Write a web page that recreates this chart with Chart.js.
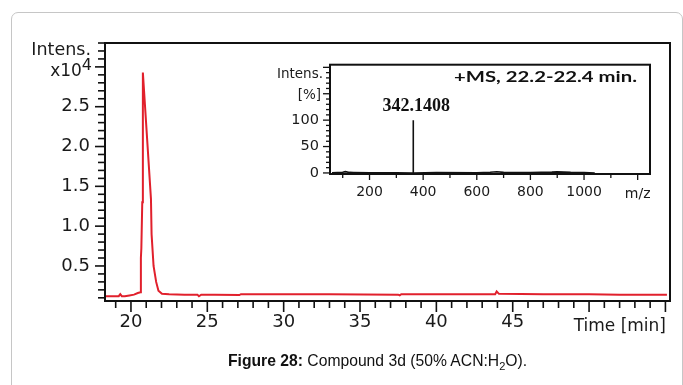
<!DOCTYPE html>
<html><head><meta charset="utf-8">
<script src="https://cdn.jsdelivr.net/npm/chart.js@4/dist/chart.umd.min.js"></script>
<style>
html,body{margin:0;padding:0;background:#fff;}
body{width:683px;height:385px;position:relative;overflow:hidden;}
#frame{position:absolute;left:11px;top:12px;width:672px;height:420px;border:1px solid #c6c6c6;border-radius:7px;box-sizing:border-box;}
#main{position:absolute;left:0;top:0;}
#inset{position:absolute;left:250px;top:45px;}
#cap{position:absolute;left:228px;top:352px;font:15.7px "Liberation Sans",Arial,sans-serif;line-height:18px;color:#111;white-space:nowrap;}
#cap b{font-weight:bold;}
#cap sub{font-size:11px;vertical-align:-4px;line-height:0;}
</style></head>
<body>
<div id="frame"></div>
<canvas id="main" width="683" height="385"></canvas>
<canvas id="inset" width="410" height="160"></canvas>
<div id="cap"><b>Figure 28:</b> Compound 3d (50% ACN:H<sub>2</sub>O).</div>
<script>
// ---- Chromatogram (main) data: time [min] vs intensity [x10^4]
const timeMin = [18.3, 18.8, 19.2, 19.3, 19.4, 19.6, 19.9, 20.2, 20.45, 20.62, 20.65, 20.68, 20.74, 20.78, 21.31, 21.35, 21.48, 21.65, 21.8, 22.03, 22.5, 23.5, 24.35, 24.45, 24.6, 25.5, 27.1, 27.2, 30, 33, 37.5, 37.6, 37.7, 40, 43.85, 43.95, 44.1, 47, 50, 52, 55.1];
const intensity = [0.12, 0.12, 0.12, 0.145, 0.12, 0.12, 0.13, 0.14, 0.16, 0.17, 0.6, 0.72, 1.3, 2.93, 1.34, 0.9, 0.5, 0.3, 0.19, 0.15, 0.145, 0.14, 0.14, 0.12, 0.14, 0.14, 0.135, 0.145, 0.145, 0.145, 0.14, 0.13, 0.145, 0.145, 0.145, 0.18, 0.15, 0.145, 0.145, 0.14, 0.14];
const mainXTickLabels = [20, 25, 30, 35, 40, 45];
const mainYTickLabels = [0.5, 1.0, 1.5, 2.0, 2.5];

// ---- Mass spectrum (inset) data: m/z vs relative intensity [%]
const mz = [60, 100, 110, 125, 140, 200, 300, 362.6, 363, 363.4, 450, 600, 650, 675, 700, 800, 880, 900, 950, 1000, 1040];
const relIntensity = [0.5, 1.2, 2.5, 1.0, 0.8, 0.4, 0.4, 0, 100, 0, 0.6, 0.5, 1.2, 2.2, 1.0, 0.8, 1.5, 2.0, 1.0, 0.6, 0];
const insetXTickLabels = [200, 400, 600, 800, 1000];
const insetYTickLabels = [0, 50, 100];

const F = '"DejaVu Sans", sans-serif';
const lbl = '#1a1a1a';

function line(ctx, x1, y1, x2, y2) { ctx.beginPath(); ctx.moveTo(x1, y1); ctx.lineTo(x2, y2); ctx.stroke(); }
function fillTextWidth(ctx, txt, x, y, w) {
  const m = ctx.measureText(txt).width;
  ctx.save(); ctx.translate(x, y); ctx.scale(w / m, 1); ctx.fillText(txt, 0, 0); ctx.restore();
}

const mainDeco = {
  id: 'mainDeco',
  afterDraw(chart) {
    const { ctx, chartArea: a, scales: { x, y } } = chart;
    ctx.save();
    ctx.strokeStyle = '#111';
    ctx.lineWidth = 2;
    ctx.strokeRect(a.left, a.top, a.right - a.left, a.bottom - a.top);
    ctx.lineWidth = 1.6;
    for (let k = 1; k <= 33; k++) {
      const v = k / 10;
      if (v < y.min || v > y.max) continue;
      const py = y.getPixelForValue(v);
      const len = k % 5 === 0 ? 10 : 7;
      line(ctx, a.left - len, py, a.left, py);
    }
    for (let t = 19; t <= 55; t++) {
      const px = x.getPixelForValue(t);
      const len = t % 5 === 0 ? 11 : 7;
      line(ctx, px, a.bottom, px, a.bottom + len);
    }
    ctx.fillStyle = lbl;
    const p3 = y.getPixelForValue(3.0);
    ctx.textBaseline = 'alphabetic';
    ctx.textAlign = 'right';
    ctx.font = '16px ' + F;
    ctx.fillText('4', a.left - 13, p3 + 3);
    const w4 = ctx.measureText('4').width;
    ctx.font = '17px ' + F;
    ctx.fillText('x10', a.left - 13 - w4, p3 + 9);
    ctx.font = '17.5px ' + F;
    ctx.fillText('Intens.', a.left - 14, y.getPixelForValue(3.2) + 4);
    ctx.font = '17px ' + F;
    ctx.fillText('Time [min]', a.right - 4, a.bottom + 30);
    ctx.restore();
  }
};

new Chart(document.getElementById('main'), {
  type: 'line',
  data: { datasets: [{ data: timeMin.map((t, i) => ({ x: t, y: intensity[i] })), borderColor: '#e1202c', borderWidth: 2, pointRadius: 0, tension: 0, fill: false }] },
  options: {
    responsive: false, animation: false,
    layout: { padding: { top: 43, right: 13, left: 0, bottom: 0 } },
    plugins: { legend: { display: false }, tooltip: { enabled: false } },
    scales: {
      x: {
        type: 'linear', min: 18.3, max: 55.3,
        afterFit(s) { s.height = 84; },
        afterBuildTicks(s) { s.ticks = mainXTickLabels.map(v => ({ value: v })); },
        grid: { display: false, drawTicks: false }, border: { display: false },
        ticks: { autoSkip: false, maxRotation: 0, padding: 11, color: lbl, font: { family: 'DejaVu Sans', size: 18 },
          callback: v => String(v) }
      },
      y: {
        type: 'linear', min: 0.06, max: 3.3,
        afterFit(s) { s.width = 105; },
        afterBuildTicks(s) { s.ticks = mainYTickLabels.map(v => ({ value: v })); },
        grid: { display: false, drawTicks: false }, border: { display: false },
        ticks: { autoSkip: false, padding: 15, color: lbl, font: { family: 'DejaVu Sans', size: 18 },
          callback: v => Number(v).toFixed(1) }
      }
    }
  },
  plugins: [mainDeco]
});

const insetDeco = {
  id: 'insetDeco',
  beforeDraw(chart) {
    const { ctx, width, height } = chart;
    ctx.save(); ctx.fillStyle = '#fff'; ctx.fillRect(0, 0, width, height); ctx.restore();
  },
  afterDraw(chart) {
    const { ctx, chartArea: a, scales: { x, y } } = chart;
    ctx.save();
    ctx.strokeStyle = '#111';
    ctx.lineWidth = 2;
    ctx.strokeRect(a.left, a.top, a.right - a.left, a.bottom - a.top);
    ctx.lineWidth = 1.3;
    for (let v = 0; v <= 200; v += 10) {
      const py = y.getPixelForValue(v);
      const len = v % 50 === 0 ? 7 : 4;
      line(ctx, a.left - len, py, a.left, py);
    }
    for (let m = 100; m <= 1200; m += 100) {
      const px = x.getPixelForValue(m);
      const len = m % 200 === 0 ? 6 : 4;
      line(ctx, px, a.bottom, px, a.bottom + len);
    }
    ctx.fillStyle = lbl;
    ctx.textAlign = 'right';
    ctx.font = '13.5px ' + F;
    ctx.fillText('Intens.', a.left - 7, y.getPixelForValue(190) + 5);
    ctx.fillText('[%]', a.left - 9, y.getPixelForValue(150) + 5);
    ctx.textAlign = 'center';
    ctx.font = '14px ' + F;
    ctx.fillText('m/z', x.getPixelForValue(1200), a.bottom + 24);
    ctx.fillStyle = '#111';
    ctx.font = 'bold 18px "Liberation Serif", serif';
    ctx.fillText('342.1408', x.getPixelForValue(363) + 3, y.getPixelForValue(100) - 9);
    ctx.textAlign = 'left';
    ctx.font = 'bold 16px Lato, sans-serif';
    fillTextWidth(ctx, '+MS, 22.2-22.4 min.', 204, 37, 183);
    ctx.restore();
  }
};

new Chart(document.getElementById('inset'), {
  type: 'line',
  data: { datasets: [{ data: mz.map((m, i) => ({ x: m, y: relIntensity[i] })), borderColor: '#111', borderWidth: 1.6, pointRadius: 0, tension: 0, fill: false }] },
  options: {
    responsive: false, animation: false,
    layout: { padding: { top: 14, right: 10, left: 0, bottom: 0 } },
    plugins: { legend: { display: false }, tooltip: { enabled: false } },
    scales: {
      x: {
        type: 'linear', min: 52.6, max: 1246,
        afterFit(s) { s.height = 31; },
        afterBuildTicks(s) { s.ticks = insetXTickLabels.map(v => ({ value: v })); },
        grid: { display: false, drawTicks: false }, border: { display: false },
        ticks: { autoSkip: false, maxRotation: 0, padding: 10, color: lbl, font: { family: 'DejaVu Sans', size: 14 },
          callback: v => String(v) }
      },
      y: {
        type: 'linear', min: -2, max: 205,
        afterFit(s) { s.width = 80; },
        afterBuildTicks(s) { s.ticks = insetYTickLabels.map(v => ({ value: v })); },
        grid: { display: false, drawTicks: false }, border: { display: false },
        ticks: { autoSkip: false, padding: 11, color: lbl, font: { family: 'DejaVu Sans', size: 14.5 },
          callback: v => String(v) }
      }
    }
  },
  plugins: [insetDeco]
});
</script>
</body></html>
